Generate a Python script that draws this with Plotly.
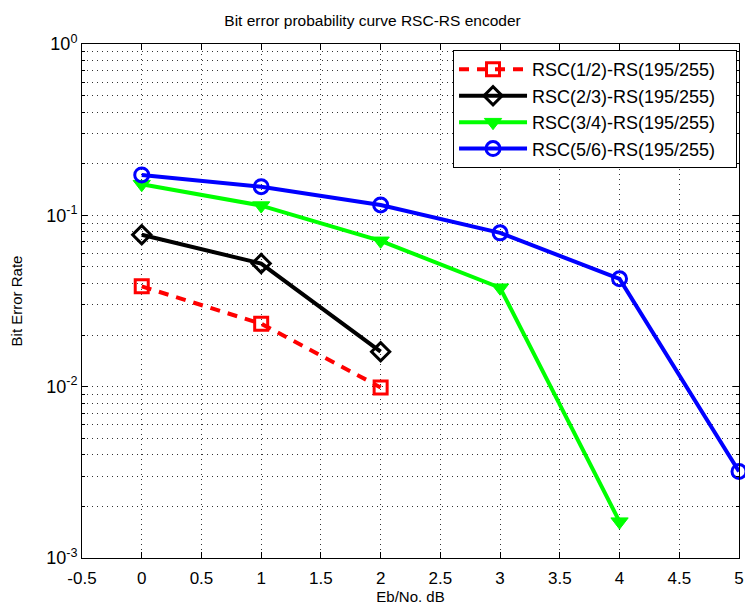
import plotly.graph_objects as go

names = ["RSC(1/2)-RS(195/255)", "RSC(2/3)-RS(195/255)",
         "RSC(3/4)-RS(195/255)", "RSC(5/6)-RS(195/255)"]
x_red = [0, 1, 2]
ber_red = [0.0385, 0.0233, 0.0099]
x_black = [0, 1, 2]
ber_black = [0.077, 0.0523, 0.016]
x_green = [0, 1, 2, 3, 4]
ber_green = [0.152, 0.114, 0.071, 0.0378, 0.00163]
x_blue = [0, 1, 2, 3, 4, 5]
ber_blue = [0.172, 0.147, 0.115, 0.079, 0.0426, 0.0032]

x_ticks = [-0.5, 0, 0.5, 1, 1.5, 2, 2.5, 3, 3.5, 4, 4.5, 5]
x_ticktext = ["-0.5", "0", "0.5", "1", "1.5", "2", "2.5", "3", "3.5", "4", "4.5", "5"]
y_ticks = [0.001, 0.01, 0.1, 1]
y_ticktext = ["10<sup>-3</sup>", "10<sup>-2</sup>", "10<sup>-1</sup>", "10<sup>0</sup>"]
y_minor = [m * 10 ** e for e in (-3, -2, -1) for m in range(2, 10)]

FONT = "Liberation Sans, Arial"
GRID = "#333333"
GDASH = "1px,4px"
PAD = "&nbsp;&nbsp;&nbsp;"

fig = go.Figure()
fig.add_trace(go.Scatter(x=x_red, y=ber_red, name=names[0] + PAD, mode="lines+markers",
                         cliponaxis=False,
                         line=dict(color="#ff0000", width=4, dash="10px,8px"),
                         marker=dict(symbol="square-open", size=13, color="#ff0000",
                                     line=dict(width=3, color="#ff0000"))))
fig.add_trace(go.Scatter(x=x_black, y=ber_black, name=names[1] + PAD, mode="lines+markers",
                         cliponaxis=False,
                         line=dict(color="#000000", width=4),
                         marker=dict(symbol="diamond-open", size=14, color="#000000",
                                     line=dict(width=3, color="#000000"))))
fig.add_trace(go.Scatter(x=x_green, y=ber_green, name=names[2] + PAD, mode="lines+markers",
                         cliponaxis=False,
                         line=dict(color="#00ff00", width=4),
                         marker=dict(symbol="triangle-down", size=15, color="#00ff00",
                                     line=dict(width=1, color="#00ff00"))))
fig.add_trace(go.Scatter(x=x_blue, y=ber_blue, name=names[3] + PAD, mode="lines+markers",
                         cliponaxis=False,
                         line=dict(color="#0000ff", width=4),
                         marker=dict(symbol="circle-open", size=14, color="#0000ff",
                                     line=dict(width=3, color="#0000ff"))))

axis_common = dict(showline=True, linecolor="black", linewidth=1, mirror="ticks",
                   ticks="inside", ticklen=6, tickcolor="black", zeroline=False,
                   showgrid=True, gridcolor=GRID, griddash=GDASH, gridwidth=1,
                   ticklabeloverflow="allow", automargin=False)

fig.update_layout(
    width=745, height=609,
    margin=dict(l=82, r=6, t=44, b=51),
    paper_bgcolor="white", plot_bgcolor="white",
    font=dict(family=FONT, size=15, color="black"),
    title=dict(text="Bit error probability curve RSC-RS encoder", x=0.5, xanchor="center",
               y=0.966, yanchor="middle", font=dict(size=15.5)),
    xaxis=dict(range=[-0.5, 5.00001], tickvals=x_ticks, ticktext=x_ticktext,
               ticklabelstandoff=5,
               tickfont=dict(family=FONT, size=17, color="black"),
               title=dict(text="Eb/No. dB", standoff=3, font=dict(size=15)), **axis_common),
    yaxis=dict(type="log", range=[-3, 0], tickvals=y_ticks, ticktext=y_ticktext,
               tickfont=dict(family=FONT, size=18, color="black"),
               title=dict(text="Bit Error Rate", standoff=19, font=dict(size=15)),
               minor=dict(tickvals=y_minor, ticks="inside", ticklen=3, tickcolor="black",
                          showgrid=True, gridcolor=GRID, griddash=GDASH, gridwidth=1),
               **axis_common),
    legend=dict(x=0.997, y=0.988, xanchor="right", yanchor="top",
                bgcolor="white", bordercolor="black", borderwidth=1,
                font=dict(family=FONT, size=18),
                itemwidth=68, tracegroupgap=0),
    showlegend=True,
)

fig.write_html("out.html", config={"displayModeBar": False},
               post_script="document.body.style.margin='0';")
